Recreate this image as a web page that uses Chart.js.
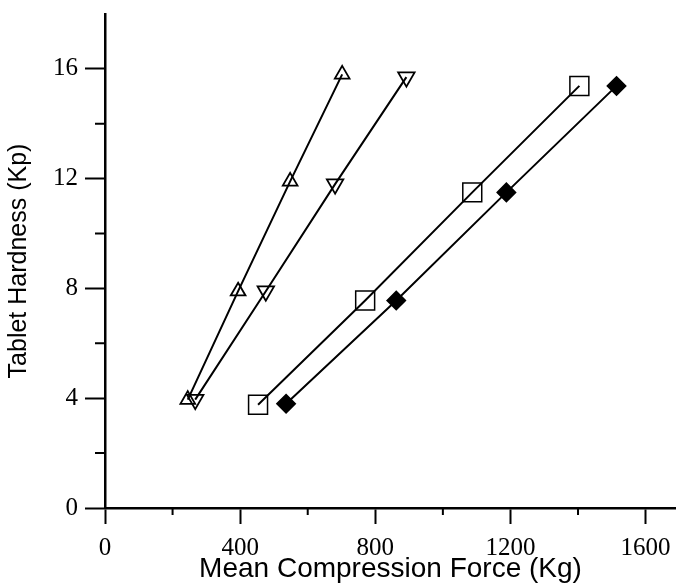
<!DOCTYPE html>
<html>
<head>
<meta charset="utf-8">
<script src="https://cdn.jsdelivr.net/npm/chart.js@4"></script>
<style>
   body { margin: 0; background: #fff; }
</style>
</head>
<body>
<canvas id="graph" width="676" height="586"></canvas>
<script>
const canvasCtx = document.getElementById("graph").getContext("2d");

// values
const forceUp = [245, 394, 548, 702];
const hardnessUp = [3.95, 7.9, 11.9, 15.8];

const forceDown = [267, 476, 681, 892];
const hardnessDown = [3.95, 7.9, 11.8, 15.7];

const forceSquare = [453, 770, 1087, 1404];
const hardnessSquare = [3.76, 7.56, 11.5, 15.38];

const forceDiamond = [536, 862, 1188, 1514];
const hardnessDiamond = [3.8, 7.56, 11.5, 15.38];

const xTicks = [0, 400, 800, 1200, 1600];
const xMinorTicks = [200, 600, 1000, 1400];
const yTicks = [0, 4, 8, 12, 16];
const yMinorTicks = [2, 6, 10, 14];

function toPoints(xs, ys)
{
   return xs.map((x, i) => ({ x: x, y: ys[i] }));
}

function series(xs, ys, style, radius, fill, extra)
{
   return Object.assign(
   {
      data: toPoints(xs, ys),
      showLine: true,
      borderColor: "#000",
      borderWidth: 2,
      pointStyle: style,
      pointRadius: radius,
      pointHoverRadius: radius,
      pointBorderWidth: 1.8,
      pointBorderColor: "#000",
      pointBackgroundColor: fill
   }, extra || {});
}

// short ticks between the labelled ones
const minorTicks =
{
   id: "minorTicks",
   afterDraw(chart)
   {
      const { ctx, scales: { x, y } } = chart;
      ctx.save();
      ctx.strokeStyle = "#000";
      ctx.lineWidth = 2;
      ctx.beginPath();
      xMinorTicks.forEach(v =>
      {
         const px = x.getPixelForValue(v);
         ctx.moveTo(px, x.top);
         ctx.lineTo(px, x.top + 7);
      });
      yMinorTicks.forEach(v =>
      {
         const py = y.getPixelForValue(v);
         ctx.moveTo(y.right, py);
         ctx.lineTo(y.right - 10, py);
      });
      ctx.stroke();
      ctx.restore();
   }
};

new Chart(canvasCtx,
{
   type: "scatter",
   data:
   {
      datasets:
      [
         series(forceUp, hardnessUp, "triangle", 8.5, "rgba(0,0,0,0)"),
         series(forceDown, hardnessDown, "triangle", 9.5, "rgba(0,0,0,0)", { pointRotation: 180 }),
         series(forceSquare, hardnessSquare, "rect", 13.4, "rgba(0,0,0,0)", { pointBorderWidth: 1.5 }),
         series(forceDiamond, hardnessDiamond, "rectRot", 9, "#000")
      ]
   },
   options:
   {
      layout:
      {
         autoPadding: false,
         padding: { top: 14, right: 0, left: 0, bottom: 0 }
      },
      scales:
      {
         x:
         {
            type: "linear",
            min: 0,
            max: 1690,
            afterBuildTicks: scale => { scale.ticks = xTicks.map(v => ({ value: v })); },
            afterFit: scale =>
            {
               scale.height = 78;
               scale.paddingLeft = 0;
               scale.paddingRight = 0;
            },
            title:
            {
               display: true,
               text: "Mean Compression Force (Kg)",
               color: "#000",
               font: { family: "Liberation Sans", size: 28 },
               padding: { top: 0, bottom: 0 }
            },
            grid:
            {
               drawOnChartArea: false,
               drawTicks: true,
               tickLength: 16,
               tickWidth: 2,
               tickColor: "#000"
            },
            border:
            {
               display: true,
               color: "#000",
               width: 2.5
            },
            ticks:
            {
               callback: value => String(value),
               color: "#000",
               padding: 9,
               maxRotation: 0,
               font: { family: "Liberation Serif", size: 25 }
            }
         },
         y:
         {
            type: "linear",
            min: 0,
            max: 18,
            afterBuildTicks: scale => { scale.ticks = yTicks.map(v => ({ value: v })); },
            afterFit: scale =>
            {
               scale.width = 105;
               scale.paddingTop = 0;
               scale.paddingBottom = 0;
            },
            title:
            {
               display: true,
               text: "Tablet Hardness (Kp)",
               color: "#000",
               font: { family: "Liberation Sans", size: 25 },
               padding: { top: 4, bottom: 0 }
            },
            grid:
            {
               drawOnChartArea: false,
               drawTicks: true,
               tickLength: 20,
               tickWidth: 2,
               tickColor: "#000"
            },
            border:
            {
               display: true,
               color: "#000",
               width: 2.5
            },
            ticks:
            {
               callback: value => String(value),
               color: "#000",
               padding: 7,
               font: { family: "Liberation Serif", size: 25 }
            }
         }
      },
      plugins:
      {
         legend: { display: false },
         tooltip: { enabled: false }
      },
      animation: false,
      responsive: false
   },
   plugins: [minorTicks]
});
</script>
</body>
</html>
